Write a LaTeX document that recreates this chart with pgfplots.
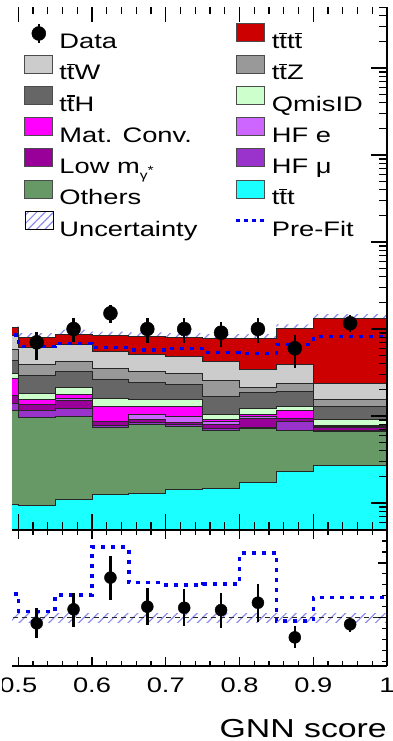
\documentclass[border=0pt]{standalone}
\usepackage{fontspec}
\setmainfont{Liberation Sans}[FakeStretch=1.3]
\usepackage{pgfplots}
\pgfplotsset{compat=1.18}
\usepackage{pgfplotstable}
\usetikzlibrary{patterns.meta}

\definecolor{cTTTT}{HTML}{CC0000}
\definecolor{cTTW}{HTML}{CCCCCC}
\definecolor{cTTZ}{HTML}{999999}
\definecolor{cTTH}{HTML}{666666}
\definecolor{cQmis}{HTML}{CCFFCC}
\definecolor{cMat}{HTML}{FF00FF}
\definecolor{cHFe}{HTML}{CC66FF}
\definecolor{cLowm}{HTML}{990099}
\definecolor{cHFmu}{HTML}{9933CC}
\definecolor{cOth}{HTML}{669966}
\definecolor{cTTT}{HTML}{1AFFFF}
\definecolor{cUnc}{HTML}{8C8CF0}
\definecolor{cPre}{HTML}{0000EE}

\newcommand\tb{\makebox[0pt][l]{\raisebox{14.6pt}{\rule{7.6pt}{1.6pt}}}t}
\newcommand\LE[1]{\makebox[169pt][l]{\rule[-5pt]{0pt}{22pt}#1}}

% cumulative stack tops per bin (left edge x); first/last rows close the areas below the axis
\pgfplotstableread{
x    tttt  ttW  ttZ  ttH  qmis  mat   hfe   lowm  hfmu  oth   ttt
0.48 0.3   0.3  0.3  0.3  0.3   0.3   0.3   0.3   0.3   0.3   0.3
0.48 102.7 85.3 57.4 44.0 31.2  27.3  17.2  17.0  14.1  11.7  0.974
0.50 80.3  62.1 38.6 29.6 18.1  15.3  13.7  13.4  11.6  9.66  0.931
0.55 87.6  65.5 41.8 32.3 21.4  17.9  16.0  14.9  12.3  9.92  1.083
0.60 83.1  54.8 35.3 26.3 16.0  12.86 8.76  8.65  7.88  7.42  1.259
0.65 81.6  51.6 32.9 24.0 15.3  12.8  10.27 9.16  8.53  7.99  1.293
0.70 80.3  48.9 30.4 23.3 15.3  12.8  9.74  8.53  7.99  7.57  1.411
0.75 78.2  42.1 25.9 16.7 10.27 9.00  8.76  8.09  7.28  6.90  1.476
0.80 78.2  33.8 21.5 18.5 12.2  10.27 10.0  9.48  7.38  7.22  1.711
0.85 100.8 38.6 23.8 19.0 12.8  11.7  9.41  9.29  8.60  6.90  2.29
0.90 132.7 23.5 15.3 12.7 9.00  7.88  7.57  7.42  6.90  6.60  2.734
1.00 132.7 23.5 15.3 12.7 9.00  7.88  7.57  7.42  6.90  6.60  2.734
1.00 0.3   0.3  0.3  0.3  0.3   0.3   0.3   0.3   0.3   0.3   0.3
}\stack

\pgfplotstableread{
x    pre
0.48 85.3
0.50 62.6
0.55 68.5
0.60 61.0
0.65 57.4
0.70 60.0
0.75 53.4
0.80 52.6
0.85 66.7
0.90 81.6
1.00 81.6
}\prefit

\pgfplotstableread{
x     y     ep   em
0.525 70.3  22.8 26.3
0.575 100   33.8 28.6
0.625 151.5 37.3 35.2
0.675 100   32.7 30.4
0.725 100   33.8 31.0
0.775 90.7  30.6 28.1
0.825 100   33.8 31.0
0.875 60.0  25.3 24.7
0.95  116.3 28.5 23.2
}\data

\pgfplotstableread{
x     y     ep    em
0.525 0.949 0.140 0.135
0.575 1.077 0.149 0.162
0.625 1.366 0.198 0.204
0.675 1.101 0.171 0.168
0.725 1.091 0.172 0.167
0.775 1.070 0.156 0.164
0.825 1.137 0.171 0.176
0.875 0.821 0.103 0.098
0.95  0.940 0.057 0.071
}\ratio

\pgfplotstableread{
x    pre
0.48 1.217
0.50 1.055
0.55 1.207
0.60 1.643
0.65 1.320
0.70 1.299
0.75 1.308
0.80 1.591
0.85 0.970
0.90 1.183
1.00 1.183
}\preratio

\pgfplotsset{
  layer/.style={const plot, fill=#1, draw=black!85, line width=1pt, forget plot},
  boxleg/.style={legend image code/.code={\draw[fill=#1, draw=black!70, line width=1pt] (0pt,-1pt) rectangle (28pt,17pt);}},
}

\begin{document}
\begin{tikzpicture}
\begin{scope}
\clip (2pt,-7.5pt) rectangle (392pt,-741pt);
\begin{axis}[
  at={(12pt,-530pt)}, anchor=south west,
  width=375pt, height=524pt, scale only axis,
  xmin=0.4915, xmax=1, ymode=log, ymin=0.4894, ymax=515900,
  axis x line*=box, axis y line*=right,
  axis line style={-, line width=1.4pt, black},
  axis on top, tick align=inside,
  xtick={0.5,0.6,0.7,0.8,0.9,1}, minor x tick num=4, xticklabels={},
  yticklabels={},
  major tick length=16pt, minor tick length=8pt,
  tick style={line width=1.2pt, black},
  legend columns=2, legend cell align=left,
  legend style={draw=none, fill=none, inner sep=0pt,
    at={(axis description cs:0.032,0.9675)}, anchor=north west,
    font=\fontsize{21}{25}\selectfont,
    column sep=6pt, row sep=4.5pt, nodes={inner sep=0pt}},
]
% uncertainty band (stack total +- uncertainty)
\addplot[draw=none, pattern={Lines[angle=45,distance=7pt,line width=1.2pt]}, pattern color=cUnc, forget plot] coordinates {
 (0.48,115.0) (0.5,115.0) (0.5,89.9) (0.55,89.9) (0.55,98.1) (0.6,98.1) (0.6,93.1) (0.65,93.1)
 (0.65,91.4) (0.7,91.4) (0.7,89.9) (0.75,89.9) (0.75,87.6) (0.85,87.6) (0.85,112.9) (0.9,112.9)
 (0.9,148.6) (1,148.6) (1,118.1) (0.9,118.1) (0.9,89.7) (0.85,89.7) (0.85,69.6) (0.75,69.6)
 (0.75,71.5) (0.7,71.5) (0.7,72.6) (0.65,72.6) (0.65,74.0) (0.6,74.0) (0.6,78.0) (0.55,78.0)
 (0.55,71.5) (0.5,71.5) (0.5,91.4) (0.48,91.4)};
% stack (cumulative)
\addplot[layer=cTTTT] table[x=x,y=tttt]{\stack};
\addplot[layer=cTTW]  table[x=x,y=ttW]{\stack};
\addplot[layer=cTTZ]  table[x=x,y=ttZ]{\stack};
\addplot[layer=cTTH]  table[x=x,y=ttH]{\stack};
\addplot[layer=cQmis] table[x=x,y=qmis]{\stack};
\addplot[layer=cMat]  table[x=x,y=mat]{\stack};
\addplot[layer=cHFe]  table[x=x,y=hfe]{\stack};
\addplot[layer=cLowm] table[x=x,y=lowm]{\stack};
\addplot[layer=cHFmu] table[x=x,y=hfmu]{\stack};
\addplot[layer=cOth]  table[x=x,y=oth]{\stack};
\addplot[layer=cTTT]  table[x=x,y=ttt]{\stack};
% pre-fit
\addplot[const plot, cPre, line width=3.5pt, dash pattern=on 4pt off 6pt, forget plot] table[x=x,y=pre]{\prefit};
% data
\addplot[only marks, mark=*, mark size=7pt, black, forget plot,
  error bars/.cd, y dir=both, y explicit, error mark=none,
  error bar style={line width=2.5pt, black}]
  table[x=x, y=y, y error plus=ep, y error minus=em]{\data};
% legend
\addlegendimage{legend image code/.code={\draw[line width=2.5pt] (14pt,-2pt)--(14pt,16.5pt); \fill (14pt,7.5pt) circle (7pt);}}
\addlegendentry{\LE{Data}}
\addlegendimage{boxleg=cTTTT}\addlegendentry{\LE{t\tb t\tb}}
\addlegendimage{boxleg=cTTW}\addlegendentry{\LE{t\tb W}}
\addlegendimage{boxleg=cTTZ}\addlegendentry{\LE{t\tb Z}}
\addlegendimage{boxleg=cTTH}\addlegendentry{\LE{t\tb H}}
\addlegendimage{boxleg=cQmis}\addlegendentry{\LE{QmisID}}
\addlegendimage{boxleg=cMat}\addlegendentry{\LE{Mat. Conv.}}
\addlegendimage{boxleg=cHFe}\addlegendentry{\LE{HF e}}
\addlegendimage{boxleg=cLowm}\addlegendentry{\LE{Low m\smash{\raisebox{-6pt}{\fontsize{12}{12}\selectfont γ}}\raisebox{-1pt}{\fontsize{12}{12}\selectfont *}}}
\addlegendimage{boxleg=cHFmu}\addlegendentry{\LE{HF μ}}
\addlegendimage{boxleg=cOth}\addlegendentry{\LE{Others}}
\addlegendimage{boxleg=cTTT}\addlegendentry{\LE{t\tb t}}
\addlegendimage{legend image code/.code={\fill[pattern={Lines[angle=45,distance=6pt,line width=1.2pt]}, pattern color=cUnc] (0pt,-1pt) rectangle (28pt,17pt);}}
\addlegendentry{\LE{Uncertainty}}
\addlegendimage{legend image code/.code={\draw[cPre, line width=3.5pt, dash pattern=on 4pt off 4pt] (0pt,8pt)--(28pt,8pt);}}
\addlegendentry{\LE{Pre-Fit}}
\end{axis}

\begin{axis}[
  at={(12pt,-666pt)}, anchor=south west,
  width=375pt, height=136pt, scale only axis,
  xmin=0.4915, xmax=1, ymin=0.56, ymax=1.80,
  axis x line*=box, axis y line*=right,
  axis line style={-, line width=1.4pt, black},
  axis on top, tick align=inside,
  xtick={0.5,0.6,0.7,0.8,0.9,1}, minor x tick num=4,
  xticklabels={0.5,0.6,0.7,0.8,0.9,1},
  ytick={1,1.5}, minor ytick={0.6,0.7,0.8,0.9,1.1,1.2,1.3,1.4,1.6,1.7}, yticklabels={},
  major tick length=9pt, minor tick length=5pt,
  tick style={line width=1.2pt, black},
  xticklabel style={font=\fontsize{21}{21}\selectfont, anchor=base, inner sep=0pt, yshift=-26pt},
  xlabel={GNN score},
  xlabel style={at={(axis description cs:1,-0.522)}, anchor=base east, inner sep=0pt, font=\fontsize{26}{26}\selectfont},
]
\addplot[draw=none, pattern={Lines[angle=45,distance=7pt,line width=1.2pt]}, pattern color=cUnc] coordinates {(0.48,0.96) (1,0.96) (1,1.04) (0.48,1.04)};
\addplot[black!85, line width=1.3pt, dash pattern=on 5pt off 4pt] coordinates {(0.48,1) (1,1)};
\addplot[const plot, cPre, line width=3.5pt, dash pattern=on 4pt off 6pt] table[x=x,y=pre]{\preratio};
\addplot[only marks, mark=*, mark size=6pt, black,
  error bars/.cd, y dir=both, y explicit, error mark=none,
  error bar style={line width=2.5pt, black}]
  table[x=x, y=y, y error plus=ep, y error minus=em]{\ratio};
\end{axis}
\end{scope}
\pgfresetboundingbox
\useasboundingbox (0,0) rectangle (392pt,-741pt);
\end{tikzpicture}
\end{document}
